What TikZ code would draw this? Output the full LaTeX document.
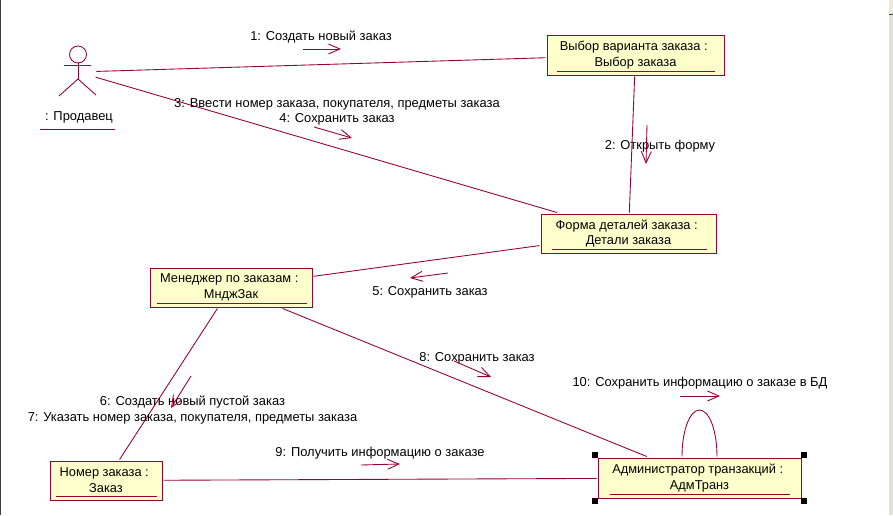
\documentclass[tikz,border=0pt]{standalone}
\usepackage{fontspec}
\setmainfont{Liberation Sans}
\usepackage{xcolor}
\definecolor{umlline}{RGB}{153,0,51}
\definecolor{umlfill}{RGB}{255,255,204}
\definecolor{winface}{RGB}{236,233,216}
\definecolor{winstrip}{RGB}{226,224,218}
\definecolor{winedge}{RGB}{64,64,64}
\usetikzlibrary{arrows.meta,positioning}

\begin{document}
\begin{tikzpicture}[
  umlobject/.style={draw=umlline,fill=umlfill,line width=0.55pt,align=center,inner sep=0pt,
    outer sep=0.03cm,font=\fontsize{7.3}{9}\selectfont},
  umllabel/.style={align=center,inner sep=0pt,font=\fontsize{7.35}{8.6}\selectfont},
  umllink/.style={umlline,line width=0.5pt},
  umlmsg/.style={umlline,line width=0.5pt,-{Straight Barb[length=0.23cm,width=0.2cm]}},
  umlhandle/.style={fill=black,draw=none,minimum size=0.12cm,inner sep=0pt}
]
  \useasboundingbox (0,0) rectangle (17.86,10.3);

  % Window edges
  \fill[winedge] (0,0) rectangle (0.03,10.3);
  \fill[winstrip] (17.78,0) rectangle (17.86,10.0);
  \fill[winface] (17.78,10.02) rectangle (17.86,10.3);
  \fill[winedge] (17.78,10.0) rectangle (17.86,10.02);

  % Actor
  \node[circle,minimum size=0.72cm,inner sep=0pt] (seller) at (1.56,8.86) {};
  \draw[umllink] (1.56,9.21) circle (0.17);
  \draw[umllink] (1.28,9.0) -- (1.82,9.0);
  \draw[umllink] (1.56,9.04) -- (1.56,8.72);
  \draw[umllink] (1.18,8.38) -- (1.56,8.72) -- (1.92,8.40);
  \node[umllabel] (sellerlabel) at (1.58,7.95) {: Продавец};
  \draw[umllink] (0.8,7.72) -- (2.3,7.72);

  % Objects
  \node[umlobject,minimum width=3.54cm,minimum height=0.8cm] (choice) at (12.71,9.2) {Выбор варианта заказа :\kern2pt\\Выбор заказа};
  \node[umlobject,minimum width=3.5cm,minimum height=0.78cm] (form) at (12.57,5.63) {Форма деталей заказа :\kern2pt\\Детали заказа};
  \node[umlobject,minimum width=3.24cm,minimum height=0.78cm] (manager) at (4.62,4.55) {Менеджер по заказам :\kern2pt\\МнджЗак};
  \node[umlobject,minimum width=2.24cm,minimum height=0.78cm] (order) at (2.12,0.69) {Номер заказа :\kern2pt\\Заказ};
  \node[umlobject,minimum width=4.06cm,minimum height=0.8cm] (admin) at (13.99,0.74) {Администратор транзакций :\kern2pt\\АдмТранз};

  % Underlines
  \draw[umllink] ([xshift=0.22cm,yshift=0.11cm]choice.south west) -- ([xshift=-0.22cm,yshift=0.11cm]choice.south east);
  \draw[umllink] ([xshift=0.24cm,yshift=0.11cm]form.south west) -- ([xshift=-0.22cm,yshift=0.11cm]form.south east);
  \draw[umllink] ([xshift=0.16cm,yshift=0.11cm]manager.south west) -- ([xshift=-0.14cm,yshift=0.11cm]manager.south east);
  \draw[umllink] ([xshift=0.14cm,yshift=0.11cm]order.south west) -- ([xshift=-0.14cm,yshift=0.11cm]order.south east);
  \draw[umllink] ([xshift=0.26cm,yshift=0.11cm]admin.south west) -- ([xshift=-0.26cm,yshift=0.11cm]admin.south east);

  % Links
  \draw[umllink] (seller) -- (choice);
  \draw[umllink] (seller) -- (form);
  \draw[umllink] (choice) -- (form);
  \draw[umllink] (form) -- (manager);
  \draw[umllink] (manager) -- (order);
  \draw[umllink] (manager) -- (admin);
  \draw[umllink] (order) -- (admin);
  \draw[umllink] ([xshift=-0.35cm]admin.north) .. controls +(0,0.53) and +(-0.19,0) .. ([yshift=0.93cm]admin.north) .. controls +(0.19,0) and +(0,0.53) .. ([xshift=0.35cm]admin.north);

  % Selection handles
  \node[umlhandle] (hnw) at (11.9,1.2) {};
  \node[umlhandle] (hne) at (16.08,1.2) {};
  \node[umlhandle] (hsw) at (11.9,0.28) {};
  \node[umlhandle] (hse) at (16.08,0.28) {};

  % Messages
  \node[umllabel] (t1) at (6.42,9.57) {1: Создать новый заказ};
  \node[umllabel] (t2) at (13.2,7.37) {2: Открыть форму};
  \node[umllabel] (t3) at (6.74,8.07) {3: Ввести номер заказа, покупателя, предметы заказа\\4: Сохранить заказ};
  \node[umllabel] (t5) at (8.6,4.45) {5: Сохранить заказ};
  \node[umllabel] (t6) at (3.85,2.1) {6: Создать новый пустой заказ\\7: Указать номер заказа, покупателя, предметы заказа};
  \node[umllabel] (t8) at (9.54,3.13) {8: Сохранить заказ};
  \node[umllabel] (t9) at (7.6,1.24) {9: Получить информацию о заказе};
  \node[umllabel] (t10) at (14.0,2.64) {10: Сохранить информацию о заказе в БД};

  \coordinate (m1a) at (6.06,9.32);
  \coordinate (m1b) at (6.82,9.32);
  \coordinate (m2a) at (12.94,7.8);
  \coordinate (m2b) at (12.92,7.02);
  \coordinate (m3a) at (6.28,7.76);
  \coordinate (m3b) at (7.04,7.54);
  \coordinate (m5a) at (8.96,4.84);
  \coordinate (m5b) at (8.2,4.74);
  \coordinate (m6a) at (3.82,2.78);
  \coordinate (m6b) at (3.42,2.14);
  \coordinate (m8a) at (9.08,3.08);
  \coordinate (m8b) at (9.82,2.76);
  \coordinate (m9a) at (7.22,1.0);
  \coordinate (m9b) at (8.0,1.02);
  \coordinate (m10a) at (13.6,2.38);
  \coordinate (m10b) at (14.4,2.38);
  \draw[umlmsg] (m1a) -- (m1b);
  \draw[umlmsg] (m2a) -- (m2b);
  \draw[umlmsg] (m3a) -- (m3b);
  \draw[umlmsg] (m5a) -- (m5b);
  \draw[umlmsg] (m6a) -- (m6b);
  \draw[umlmsg] (m8a) -- (m8b);
  \draw[umlmsg] (m9a) -- (m9b);
  \draw[umlmsg] (m10a) -- (m10b);
\end{tikzpicture}
\end{document}
